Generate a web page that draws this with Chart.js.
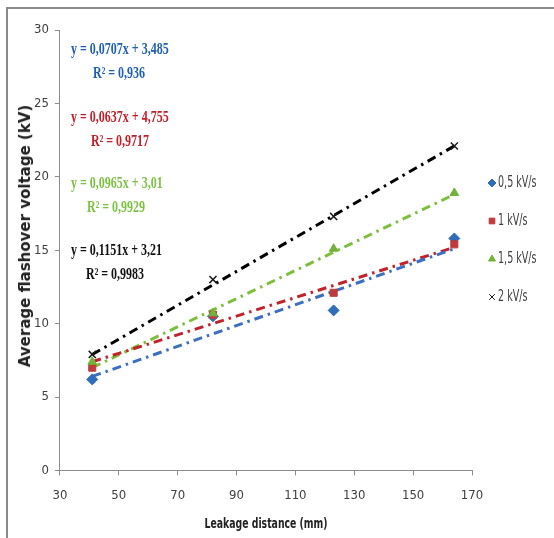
<!DOCTYPE html>
<html lang="en">
<head>
    <meta charset="UTF-8">
    <title>Average flashover voltage vs leakage distance</title>
    <script src="https://cdn.jsdelivr.net/npm/chart.js"></script>
    <style>
        html, body { margin: 0; padding: 0; background: #fff; overflow: hidden; }
        #wrap { position: relative; width: 554px; height: 538px; }
        #frame {
            position: absolute; left: 6px; top: 7px; width: 600px; height: 600px;
            border: 2px solid #8a8a8a; box-sizing: border-box;
        }
        #chart { position: absolute; left: 0; top: 0; }
        .eq {
            position: absolute; white-space: nowrap;
            font-family: 'Liberation Serif', 'DejaVu Serif', serif;
            font-weight: bold; font-size: 16px; line-height: 18px;
            transform: scaleX(0.75); transform-origin: left center;
        }
        #xtitle {
            position: absolute; left: 266px; top: 514px; white-space: nowrap;
            font-family: 'DejaVu Sans Condensed', 'DejaVu Sans', sans-serif;
            font-weight: bold; font-size: 14px; line-height: 18px; color: #222;
            transform: translateX(-50%) scaleX(0.74);
        }
        #ytitle {
            position: absolute; left: 25px; top: 236px; white-space: nowrap;
            font-family: 'DejaVu Sans', sans-serif;
            font-weight: bold; font-size: 15px; line-height: 18px; color: #222;
            transform: translate(-50%, -50%) rotate(-90deg);
        }
    </style>
</head>
<body>
<div id="wrap">
    <div id="frame"></div>
    <canvas id="chart" width="554" height="538"></canvas>
    <div id="equations"></div>
    <div id="xtitle">Leakage distance (mm)</div>
    <div id="ytitle">Average flashover voltage (kV)</div>
</div>

<script>
    // data
    const leakageDistance = [41, 82, 123, 164];
    const v05 = [6.2, 10.5, 10.9, 15.8];
    const v1 = [7.0, 10.6, 12.1, 15.4];
    const v15 = [7.4, 10.7, 15.1, 18.9];
    const v2 = [7.9, 13.0, 17.3, 22.1];

    // trendline end points (x = first and last distance)
    const trendX = [41, 164];
    const trend05 = [6.4, 15.1];
    const trend1 = [7.4, 15.2];
    const trend15 = [7.0, 18.8];
    const trend2 = [7.9, 22.1];

    const seriesLabels = ['0,5 kV/s', '1 kV/s', '1,5 kV/s', '2 kV/s'];
    const equationLines = ['y = 0,0707x + 3,485', 'y = 0,0637x + 4,755', 'y = 0,0965x + 3,01', 'y = 0,1151x + 3,21'];
    const r2Lines = ['R² = 0,936', 'R² = 0,9717', 'R² = 0,9929', 'R² = 0,9983'];
    const xTicks = [30, 50, 70, 90, 110, 130, 150, 170];
    const yTicks = [0, 5, 10, 15, 20, 25, 30];

    const markerColors = ['#2f6db8', '#bf3a3a', '#73b13a', '#1a1a1a'];
    const lineColors = ['#3a6fc2', '#c0232b', '#7dbf3c', '#000000'];
    const textColors = ['#1f5fb0', '#c0202a', '#7cc242', '#111111'];
    const pointStyles = ['rectRot', 'rect', 'triangle', 'cross'];
    const values = [v05, v1, v15, v2];
    const trends = [trend05, trend1, trend15, trend2];

    const narrow = "'DejaVu Sans Condensed', 'DejaVu Sans', sans-serif";

    const toPoints = (xs, ys) => xs.map((x, i) => ({ x: x, y: ys[i] }));

    const datasets = [];
    values.forEach((vals, i) => {
        datasets.push({
            label: seriesLabels[i],
            data: toPoints(leakageDistance, vals),
            pointStyle: pointStyles[i],
            pointRadius: i === 0 ? 5.5 : 5,
            pointRotation: i === 3 ? 45 : 0,
            backgroundColor: markerColors[i],
            borderColor: markerColors[i],
            borderWidth: i === 3 ? 1.5 : 1,
            showLine: false,
            order: 4 - i
        });
    });
    trends.forEach((t, i) => {
        datasets.push({
            label: 'trend ' + seriesLabels[i],
            data: toPoints(trendX, t),
            showLine: true,
            pointRadius: 0,
            borderColor: lineColors[i],
            borderWidth: 3,
            borderDash: [9, 5, 2.5, 5],
            order: 10 + i
        });
    });

    // legend on the right, drawn with the chart's own point renderer
    const legendYs = [183, 221, 259, 297];
    const sideLegend = {
        id: 'sideLegend',
        afterDraw(chart) {
            const ctx = chart.ctx;
            seriesLabels.forEach((lab, i) => {
                ctx.save();
                ctx.fillStyle = markerColors[i];
                ctx.strokeStyle = markerColors[i];
                ctx.lineWidth = 1;
                Chart.helpers.drawPoint(ctx, {
                    pointStyle: pointStyles[i],
                    radius: 4,
                    rotation: i === 3 ? 45 : 0,
                    borderWidth: 1
                }, 492, legendYs[i]);
                ctx.translate(498, legendYs[i]);
                ctx.scale(0.71, 1);
                ctx.fillStyle = '#404040';
                ctx.font = '15px ' + narrow;
                ctx.textBaseline = 'middle';
                ctx.fillText(lab, 0, 0);
                ctx.restore();
            });
        }
    };

    new Chart(document.getElementById('chart'), {
        type: 'scatter',
        data: { datasets: datasets },
        plugins: [sideLegend],
        options: {
            responsive: false,
            animation: false,
            layout: { padding: { left: 28, top: 30, right: 82, bottom: 23 } },
            plugins: { legend: { display: false }, tooltip: { enabled: false } },
            scales: {
                x: {
                    type: 'linear', min: 30, max: 170,
                    afterBuildTicks: s => { s.ticks = xTicks.map(v => ({ value: v })); },
                    grid: { drawOnChartArea: false, drawTicks: true, tickLength: 5, color: '#8c8c8c' },
                    border: { color: '#8c8c8c', width: 1 },
                    ticks: { color: '#404040', padding: 12, font: { family: narrow, size: 13 }, maxRotation: 0 }
                },
                y: {
                    type: 'linear', min: 0, max: 30,
                    afterBuildTicks: s => { s.ticks = yTicks.map(v => ({ value: v })); },
                    grid: { drawOnChartArea: false, drawTicks: true, tickLength: 5, color: '#8c8c8c' },
                    border: { color: '#8c8c8c', width: 1 },
                    ticks: { color: '#404040', padding: 6, font: { family: narrow, size: 13 } }
                }
            }
        }
    });

    // trendline equations, top-left of the plot
    const eqBox = document.getElementById('equations');
    const eqTops = [40, 108, 174, 241];
    const r2Lefts = [93, 91, 87, 86];
    equationLines.forEach((txt, i) => {
        const a = document.createElement('div');
        a.className = 'eq';
        a.style.left = '71px';
        a.style.top = eqTops[i] + 'px';
        a.style.color = textColors[i];
        a.textContent = txt;
        eqBox.appendChild(a);
        const b = document.createElement('div');
        b.className = 'eq';
        b.style.left = r2Lefts[i] + 'px';
        b.style.top = (eqTops[i] + 24) + 'px';
        b.style.color = textColors[i];
        b.textContent = r2Lines[i];
        eqBox.appendChild(b);
    });
</script>
</body>
</html>
